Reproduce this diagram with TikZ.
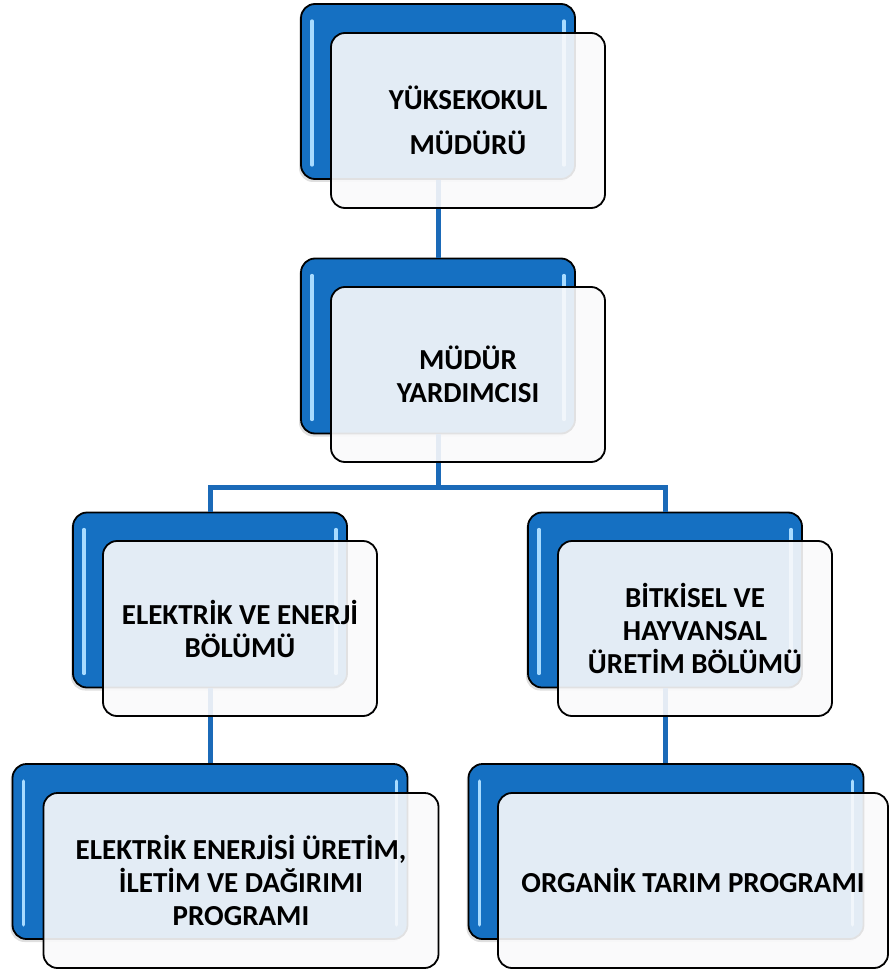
\documentclass[tikz,border=0pt]{standalone}
\usepackage{fontspec}
\setmainfont{Carlito}
\usetikzlibrary{shadows}

% Colours of the chart
\definecolor{unitblue}{HTML}{1570C2}
\definecolor{linkblue}{HTML}{1B6AB8}
\definecolor{glossblue}{HTML}{A8DBFF}
\definecolor{frontwhite}{HTML}{FAFAFB}

\begin{document}
\begin{tikzpicture}[x=1pt, y=-1pt,
    backbox/.style={draw=black, line width=1.8pt, rounded corners=14pt,
        fill=unitblue, inner sep=0pt,
        minimum width=274pt, minimum height=175pt,
        drop shadow={shadow xshift=-2pt, shadow yshift=-3pt, opacity=0.25}},
    widebox/.style={minimum width=395pt},
    frontbox/.style={draw=black, line width=1.8pt, rounded corners=14pt,
        fill=frontwhite, fill opacity=0.9, text opacity=1, inner sep=0pt,
        minimum width=274pt, minimum height=175pt, align=center,
        font=\fontsize{29}{33}\selectfont\bfseries},
    link/.style={draw=linkblue, line width=5pt},
    gloss/.style={draw=glossblue, line width=3.5pt, line cap=round}]

    % Fix the size of the page
    \useasboundingbox (0,0) rectangle (889,973);

    % Blue back boxes
    \node[backbox] (b1) at (438, 91.5) {};
    \node[backbox] (b2) at (438, 346) {};
    \node[backbox] (b3) at (210, 600) {};
    \node[backbox] (b4) at (665, 600) {};
    \node[backbox, widebox] (b5) at (210, 851.5) {};
    \node[backbox, widebox] (b6) at (666, 851.5) {};

    % Glossy strips near the side edges of each blue box
    \foreach \b in {b1, b2, b3, b4, b5, b6} {
        \draw[gloss] ([xshift=12pt, yshift=-18pt]\b.north west) -- ([xshift=12pt, yshift=15pt]\b.south west);
        \draw[gloss] ([xshift=-12pt, yshift=-18pt]\b.north east) -- ([xshift=-12pt, yshift=15pt]\b.south east);
    }

    % Connectors (seen through the front boxes)
    \draw[link] (b1.south) -- (b2.north);
    \draw[link] (b2.south) -- ++(0,53) -| (b3.north);
    \draw[link] (b2.south) -- ++(0,53) -| (b4.north);
    \draw[link] (b3.south) -- (b3.south |- b5.north);
    \draw[link] (b4.south) -- (b4.south |- b6.north);

    % Front boxes with the unit names
    \node[frontbox] (f1) at (468, 120.5) {YÜKSEKOKUL\\[12pt]MÜDÜRÜ};
    \node[frontbox] (f2) at (468, 374.5) {MÜDÜR\\YARDIMCISI};
    \node[frontbox] (f3) at (240, 628.5) {ELEKTRİK VE ENERJİ\\BÖLÜMÜ};
    \node[frontbox] (f4) at (695, 628.5) {BİTKİSEL VE\\HAYVANSAL\\ÜRETİM BÖLÜMÜ};
    \node[frontbox, widebox] (f5) at (241, 880.5) {ELEKTRİK ENERJİSİ ÜRETİM,\\İLETİM VE DAĞIRIMI\\PROGRAMI};
    \node[frontbox, minimum width=390pt] (f6) at (693, 880.5) {ORGANİK TARIM PROGRAMI};

\end{tikzpicture}
\end{document}
